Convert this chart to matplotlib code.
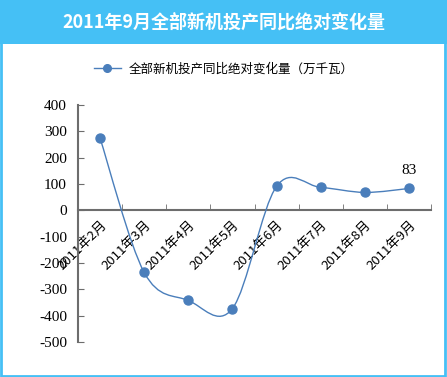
import matplotlib
matplotlib.use("Agg")
import matplotlib.pyplot as plt
from matplotlib.path import Path
from matplotlib.patches import PathPatch, Rectangle
from matplotlib.lines import Line2D
import numpy as np

plt.rcParams['font.family'] = ['Noto Sans CJK SC', 'DejaVu Sans']

categories = ["2011年2月", "2011年3月", "2011年4月", "2011年5月",
              "2011年6月", "2011年7月", "2011年8月", "2011年9月"]
values = [274, -236, -342, -373, 91, 87, 68, 83]
yticks = [400, 300, 200, 100, 0, -100, -200, -300, -400, -500]
title = "2011年9月全部新机投产同比绝对变化量"
series_name = "全部新机投产同比绝对变化量（万千瓦）"

W, H = 447, 377
fig = plt.figure(figsize=(W / 100, H / 100), dpi=100)
fig.patch.set_facecolor("white")

blue = "#45c0f5"
line_c = "#4a7ebb"
axis_c = "#6d6d6d"

# title bar and frame
fig.patches.append(Rectangle((0, 1 - 44 / H), 1, 44 / H, transform=fig.transFigure,
                             facecolor=blue, edgecolor="none", zorder=0))
fig.patches.append(Rectangle((1 / W, 1 / H), 1 - 3 / W, 1 - 2 / H, transform=fig.transFigure,
                             facecolor="none", edgecolor=blue, linewidth=2, zorder=5))
fig.text(0.5, 1 - 22 / H, title, ha="center", va="center", color="white",
         fontsize=13, fontweight="bold")

ax = fig.add_axes([78 / W, 1 - 342 / H, (431 - 78) / W, (342 - 105) / H])
ax.set_facecolor("none")
n = len(categories)
x = np.arange(n)

# spines first (set_position resets ticks)
for s in ["top", "right"]:
    ax.spines[s].set_visible(False)
ax.spines["bottom"].set_position(("data", 0))
ax.spines["bottom"].set_color(axis_c)
ax.spines["bottom"].set_linewidth(1.5)
ax.spines["left"].set_color(axis_c)
ax.spines["left"].set_linewidth(1.5)

# smoothed line (Excel-like Catmull-Rom Bezier through data points)
pts = np.column_stack([x, values]).astype(float)
verts = [tuple(pts[0])]
codes = [Path.MOVETO]
for i in range(n - 1):
    p0 = pts[i - 1] if i > 0 else pts[i]
    p1 = pts[i]
    p2 = pts[i + 1]
    p3 = pts[i + 2] if i + 2 < n else pts[i + 1]
    c1 = p1 + (p2 - p0) / 6
    c2 = p2 - (p3 - p1) / 6
    verts += [tuple(c1), tuple(c2), tuple(p2)]
    codes += [Path.CURVE4] * 3
ax.add_patch(PathPatch(Path(verts, codes), facecolor="none", edgecolor=line_c,
                       linewidth=1.0, zorder=3))
ax.plot(x, values, linestyle="none", marker="o", markersize=6.5, color=line_c, zorder=4)

ax.annotate(str(values[-1]), (x[-1], values[-1]), xytext=(0, 8), textcoords="offset points",
            ha="center", va="bottom", fontsize=11, family=["Liberation Serif"])

ax.set_xlim(-0.5, n - 0.5)
ax.set_ylim(-500, 400)
ax.set_yticks(yticks)
ax.set_yticklabels([str(v) for v in yticks], family=["Liberation Serif"], fontsize=11)

# category labels on major ticks (no marks), boundary marks on minor ticks
ax.set_xticks(x)
ax.set_xticklabels(categories, fontsize=9.5, rotation=45, ha="right", va="top",
                   rotation_mode="anchor")
ax.set_xticks(np.arange(-0.5, n, 1.0), minor=True)
ax.tick_params(axis="x", which="major", length=0, pad=6)
ax.tick_params(axis="x", which="minor", direction="in", length=4, color=axis_c)
ax.tick_params(axis="y", direction="in", length=4, color=axis_c, pad=8)

# legend
h = Line2D([0], [0], color=line_c, marker="o", markersize=5.5, linewidth=1.0)
fig.legend([h], [series_name], loc="center", bbox_to_anchor=(0.5, 1 - 69 / H),
           frameon=False, fontsize=9, handlelength=2.2, handletextpad=0.6)

fig.savefig("out.png", dpi=100)
